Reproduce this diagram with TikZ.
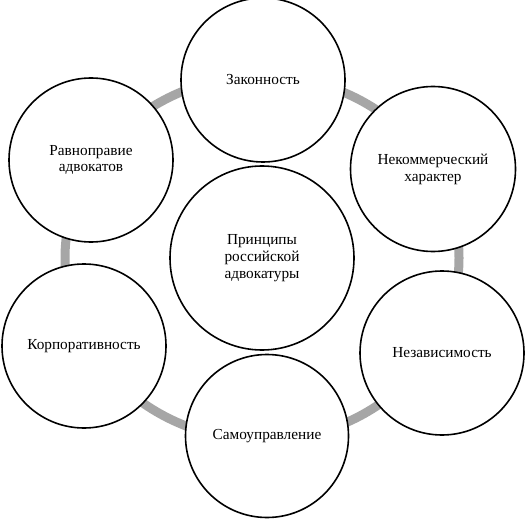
\documentclass[tikz,border=0pt]{standalone}
\usepackage{fontspec}
\setmainfont{Liberation Serif}
\begin{document}
\begin{tikzpicture}[x=1pt,y=-1pt,
  bubble/.style={circle,draw=black,line width=1.6pt,fill=white,inner sep=0pt,
    align=center,font=\fontsize{15.3}{16.8}\selectfont},
  ring/.style={draw=black!35,line width=9pt}]
\useasboundingbox (0,0) rectangle (526,518);
\coordinate (c0) at (262,258);
\draw[ring] (c0) ellipse [x radius=197, y radius=182];
\node[bubble,minimum size=184pt] (center) at (c0) {Принципы\\российской\\адвокатуры};
\node[bubble,minimum size=164pt] (zak) at (263,80) {Законность};
\node[bubble,minimum size=165pt] (nek) at (433,169) {Некоммерческий\\характер};
\node[bubble,minimum size=164pt] (nez) at (442,353) {Независимость};
\node[bubble,minimum size=163pt] (sam) at (267,436) {Самоуправление};
\node[bubble,minimum size=164pt] (kor) at (84,346) {Корпоративность};
\node[bubble,minimum size=164pt] (rav) at (91,160) {Равноправие\\адвокатов};
\end{tikzpicture}
\end{document}
